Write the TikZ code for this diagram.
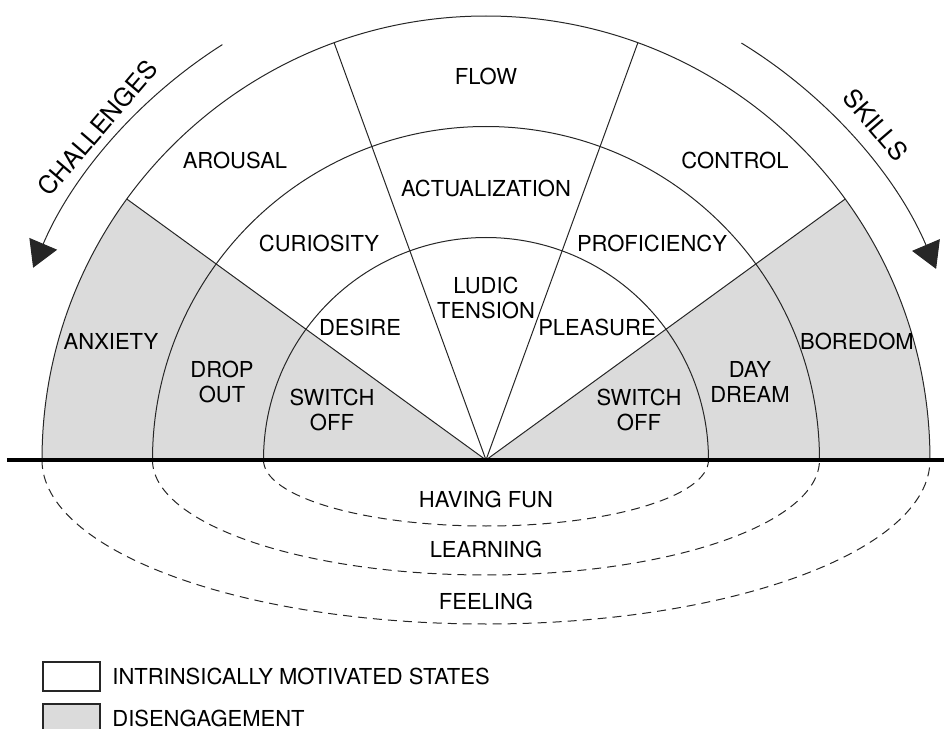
\documentclass[tikz,border=0pt]{standalone}
\usepackage{fontspec}
\setmainfont{TeX Gyre Heros}
\usetikzlibrary{arrows.meta}

\begin{document}
\begin{tikzpicture}[x=0.5pt,y=0.5pt,
	lbl/.style={font=\fontsize{11}{12.5}\selectfont, align=center, inner sep=0pt},
	side/.style={font=\fontsize{12.5}{14}\selectfont, inner sep=0pt},
	ring/.style={draw=black!85, line width=0.5pt},
	dis/.style={fill=black!14},
	turn/.style={draw=black!85, line width=0.5pt, -{Triangle[length=13pt,width=15pt]}}]
	\useasboundingbox (-486,-269) rectangle (458,460);
	\coordinate (O) at (0,0);
	% disengagement sectors
	\fill[dis] (O) -- (0:444) arc[start angle=0, end angle=36, radius=444] -- cycle;
	\fill[dis] (O) -- (144:444) arc[start angle=144, end angle=180, radius=444] -- cycle;
	% rings and rays
	\foreach \r in {222.5,333.5,444}
		\draw[ring] (\r,0) arc[start angle=0, end angle=180, radius=\r];
	\foreach \a in {36,70,110,144}
		\draw[ring] (O) -- (\a:444);
	% dashed half ellipses below
	\draw[ring, dash pattern=on 4.5pt off 3pt] (-222.5,0) arc[start angle=180, end angle=360, x radius=222.5, y radius=66];
	\draw[ring, dash pattern=on 4.5pt off 3pt] (-333.5,0) arc[start angle=180, end angle=360, x radius=333.5, y radius=115];
	\draw[ring, dash pattern=on 4.5pt off 3pt] (-444,0) arc[start angle=180, end angle=360, x radius=444, y radius=164];
	\draw[line width=1.6pt] (-479,0) -- (458,0);
	% side arrows
	\draw[turn] (122.4:492) arc[start angle=122.4, end angle=157, radius=492];
	\draw[turn] (58.5:489) arc[start angle=58.5, end angle=23, radius=489];
	\node (challenges) at (139.5:511) [side, rotate=49.5]	{CHALLENGES};
	\node (skills) at (40.7:514) [side, rotate=-49.3]	{SKILLS};
	% states
	\node (flow) at (0,384)		[lbl]	{FLOW};
	\node (arousal) at (-251,300)	[lbl]	{AROUSAL};
	\node (control) at (249,300)	[lbl]	{CONTROL};
	\node (actual) at (0,272)	[lbl]	{ACTUALIZATION};
	\node (curiosity) at (-167,217)	[lbl]	{CURIOSITY};
	\node (proficiency) at (166,217)	[lbl]	{PROFICIENCY};
	\node (ludic) at (0,162)		[lbl]	{LUDIC\\TENSION};
	\node (desire) at (-126,133)	[lbl]	{DESIRE};
	\node (pleasure) at (111,133)	[lbl]	{PLEASURE};
	\node (anxiety) at (-375,119)	[lbl]	{ANXIETY};
	\node (boredom) at (371,119)	[lbl]	{BOREDOM};
	\node (dropout) at (-264,78)	[lbl]	{DROP\\OUT};
	\node (daydream) at (264,78)	[lbl]	{DAY\\DREAM};
	\node (offL) at (-154,50)	[lbl]	{SWITCH\\OFF};
	\node (offR) at (153,50)		[lbl]	{SWITCH\\OFF};
	\node (fun) at (0,-39)		[lbl]	{HAVING FUN};
	\node (learning) at (0,-89)	[lbl]	{LEARNING};
	\node (feeling) at (0,-141)	[lbl]	{FEELING};
	% legend
	\draw[ring, line width=0.8pt] (-443,-202) rectangle (-386,-231);
	\fill[dis] (-443,-244) rectangle (-386,-269);
	\draw[ring, line width=0.8pt] (-443,-269) -- (-443,-244) -- (-386,-244) -- (-386,-269);
	\node (keyA) at (-374,-216)	[lbl, anchor=west]	{INTRINSICALLY MOTIVATED STATES};
	\node (keyB) at (-374,-258)	[lbl, anchor=west]	{DISENGAGEMENT};
\end{tikzpicture}
\end{document}
